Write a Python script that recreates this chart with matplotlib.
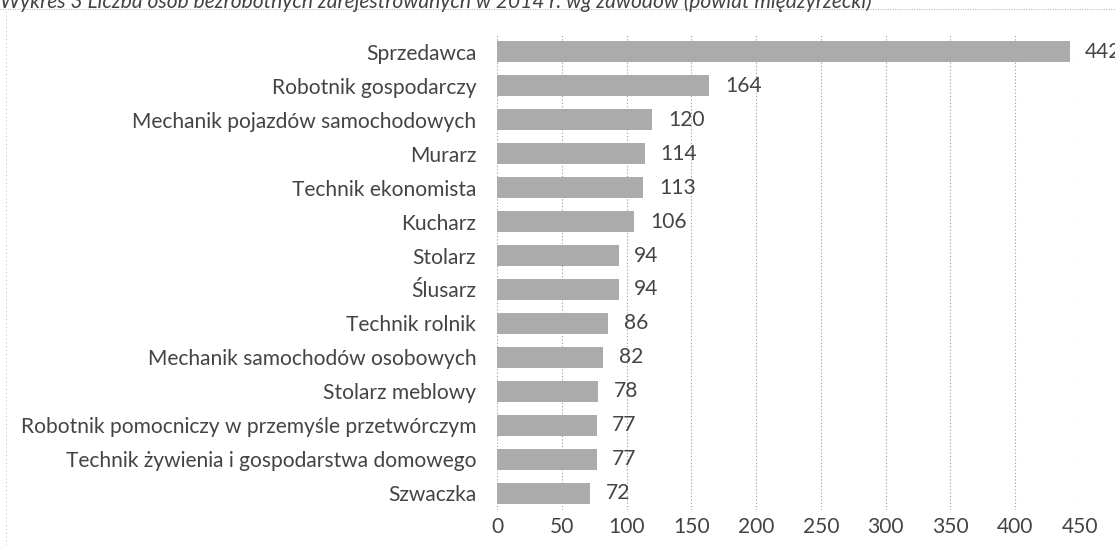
import matplotlib
matplotlib.use("Agg")
import matplotlib.pyplot as plt
from matplotlib.lines import Line2D

categories = ["Sprzedawca", "Robotnik gospodarczy", "Mechanik pojazdów samochodowych",
              "Murarz", "Technik ekonomista", "Kucharz", "Stolarz", "Ślusarz",
              "Technik rolnik", "Mechanik samochodów osobowych", "Stolarz meblowy",
              "Robotnik pomocniczy w przemyśle przetwórczym",
              "Technik żywienia i gospodarstwa domowego", "Szwaczka"]
values = [442, 164, 120, 114, 113, 106, 94, 94, 86, 82, 78, 77, 77, 72]
xticks = [0, 50, 100, 150, 200, 250, 300, 350, 400, 450]
title = "Wykres 3 Liczba osób bezrobotnych zarejestrowanych w 2014 r. wg zawodów (powiat międzyrzecki)"

plt.rcParams['font.family'] = ['Lato', 'DejaVu Sans']
FW = 'normal'
FS = 15.1
TC = "#444444"

fig = plt.figure(figsize=(11.15, 5.45), dpi=100)
ax = fig.add_axes([497/1115, 1-510/545, (1080-497)/1115, (510-35)/545])

y = list(range(len(categories)))
ax.barh(y, values, height=0.62, color="#ababab", zorder=2)
ax.set_ylim(len(categories)-0.5, -0.5)
ax.set_xlim(0, 450)
ax.set_yticks(y)
ax.set_yticklabels(categories, fontsize=FS, color=TC, fontweight=FW)
ax.set_xticks(xticks)
ax.set_xticklabels([str(t) for t in xticks], fontsize=FS, color=TC, fontweight=FW)
ax.tick_params(axis='both', length=0)
ax.tick_params(axis='y', pad=15)
ax.tick_params(axis='x', pad=5)
for s in ax.spines.values():
    s.set_visible(False)
ax.grid(axis='x', linestyle=(0, (1, 2)), color="#999999", linewidth=0.8, zorder=0)

for yi, v in zip(y, values):
    ax.text(v + 12, yi, str(v), va='center', ha='left', fontsize=FS, color=TC,
            fontweight=FW, clip_on=False)

fig.text(0.0, 0.997, title, fontsize=FS, style='italic', color=TC, fontweight=FW,
         ha='left', va='center')
fig.add_artist(Line2D([0, 1], [1-9/545, 1-9/545], transform=fig.transFigure,
                      color="#aaaaaa", linewidth=0.7, linestyle=(0, (1, 1.5))))
fig.add_artist(Line2D([6/1115, 6/1115], [0, 1-9/545], transform=fig.transFigure,
                      color="#bbbbbb", linewidth=0.7, linestyle=(0, (1, 3))))

fig.savefig("out.png", dpi=100)
